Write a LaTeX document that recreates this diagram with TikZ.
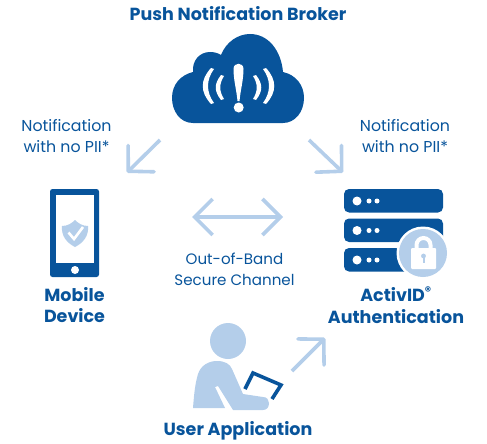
\documentclass[tikz,border=0pt]{standalone}
\usepackage{fontspec}
\setmainfont{Poppins}
\usepackage{xcolor}
\usetikzlibrary{positioning, arrows.meta}
\definecolor{hiddark}{HTML}{08549B}
\definecolor{hidlight}{HTML}{B4CEEA}

\begin{document}
\begin{tikzpicture}[
    x=1pt, y=-1pt,
    lbl/.style={align=center, text=hiddark, font=\fontsize{15.8}{20.5}\selectfont, inner sep=0pt},
    lblsm/.style={lbl, font=\fontsize{15.1}{20.5}\selectfont},
    ttl/.style={align=center, text=hiddark, font=\fontsize{17.5}{21.5}\selectfont\bfseries, inner sep=0pt},
    arr/.style={-{Straight Barb[length=18pt, width=37pt, line width=3.6pt, round=false]}, line width=3.6pt, draw=hidlight, line join=miter},
    darr/.style={{Straight Barb[length=18pt, width=36pt, line width=3.6pt]}-{Straight Barb[length=18pt, width=36pt, line width=3.6pt]}, line width=3.6pt, draw=hidlight, line join=miter},
    ico/.style={fill=hiddark, draw=none},
    icol/.style={fill=hidlight, draw=none},
    hole/.style={fill=white, draw=none},
]
\useasboundingbox (0,0) rectangle (487,444);

% === Cloud ===
\fill[ico] (193,123) .. controls (180,123) and (172,111) .. (172,98)
    .. controls (172,84) and (181,75) .. (193,72)
    .. controls (192,60) and (200,52) .. (210,52)
    .. controls (214,52) and (218,53) .. (221,55)
    .. controls (226,42) and (238,34) .. (250,34)
    .. controls (268,34) and (281,50) .. (283,72)
    .. controls (296,75) and (304,85) .. (304,98)
    .. controls (304,112) and (295,123) .. (283,123) -- cycle;
\fill[hole] (233.5,69) .. controls (233.5,62) and (243.5,62) .. (243.5,69)
    .. controls (243.5,80) and (240.5,90) .. (239.5,101) -- (237.5,101)
    .. controls (236.5,90) and (233.5,80) .. (233.5,69) -- cycle;
\fill[hole] (238.7,107.5) circle (5);
\fill[hole] (211,68) .. controls (200,80) and (200,92) .. (211,104) -- (214,103)
    .. controls (206,92) and (206,80) .. (214,69) -- cycle;
\fill[hole] (221,75) .. controls (214,84) and (214,91) .. (221,100) -- (224,99)
    .. controls (219,91) and (219,84) .. (224,76) -- cycle;
\fill[hole] (266,68) .. controls (277,80) and (277,92) .. (266,104) -- (263,103)
    .. controls (271,92) and (271,80) .. (263,69) -- cycle;
\fill[hole] (256,75) .. controls (263,84) and (263,91) .. (256,100) -- (253,99)
    .. controls (258,91) and (258,84) .. (253,76) -- cycle;
\node[ttl] (broker) at (238,14) {Push Notification Broker};

% === Mobile device ===
\fill[ico, rounded corners=2.5pt] (50,189) rectangle (99,277);
\fill[hole] (56,195) rectangle (94,263);
\fill[hole] (75,270) circle (4);
\fill[icol] (62,226) .. controls (68,226) and (72,223) .. (75,220)
    .. controls (78,223) and (82,226) .. (88,226)
    .. controls (89,236) and (83,243) .. (75,247)
    .. controls (67,243) and (61,236) .. (62,226) -- cycle;
\draw[white, line width=2.6pt] (68.5,232.5) -- (74,239) -- (83,227);
\node[ttl] (mobile) at (74.5,305) {Mobile\\Device};

% === Server + lock ===
\foreach \y in {189,218.5,248} {
    \fill[ico, rounded corners=5pt] (344,\y) rectangle (443,\y+23.5);
    \fill[hole] (357,\y+12) circle (4.5);
    \fill[hole] (369,\y+12) circle (2.5);
    \fill[hole] (377,\y+12) circle (2.5);
}
\fill[hole] (423,253) circle (26.5);
\fill[icol] (423,253) circle (24);
\draw[white, line width=4pt] (416.5,250) -- (416.5,245) arc[start angle=180, end angle=360, radius=7] -- (430.5,250);
\fill[hole, rounded corners=1pt] (411,248) rectangle (436,269);
\fill[icol] (423.5,256) circle (2.4);
\fill[icol] (422.5,256) rectangle (424.5,263);
\node[ttl] (activid) at (396,305) {ActivID\textsuperscript{\textregistered}\\Authentication};

% === User ===
\fill[icol] (228,341) circle (18);
\fill[icol] (193,408) .. controls (194,395) and (195,384) .. (198,374)
    .. controls (201,365) and (209,361) .. (217,361)
    .. controls (225,361) and (230,364) .. (232,369)
    -- (243,394) -- (263,397)
    .. controls (267,397) and (269,400) .. (269,403)
    .. controls (269,407) and (267,410) .. (263,410)
    -- (233,410) -- (218,386) -- (215,387) -- (225,408) -- cycle;
\draw[hiddark, line width=3.6pt, line join=miter] (245,389) -- (253,373) -- (281,385) -- (272,399);
\node[ttl] (user) at (238,430.5) {User Application};

% === Labels ===
\node[lbl] (left_note) at (66.5,136) {Notification\\with no PII*};
\node[lbl] (right_note) at (405,136) {Notification\\with no PII*};
\node[lblsm] (channel) at (234.5,269.5) {Out-of-Band\\Secure Channel};

% === Arrows ===
\coordinate (cloud_l) at (160,140);
\coordinate (phone_t) at (127,172.5);
\coordinate (cloud_r) at (309,140);
\coordinate (server_t) at (343,172.5);
\coordinate (user_s) at (292,371);
\coordinate (server_b) at (325,338);
\coordinate (chan_l) at (192,217);
\coordinate (chan_r) at (283,217);
\draw[arr] (cloud_l) -- (phone_t);
\draw[arr] (cloud_r) -- (server_t);
\draw[arr] (user_s) -- (server_b);
\draw[darr] (chan_l) -- (chan_r);

\end{tikzpicture}
\end{document}
